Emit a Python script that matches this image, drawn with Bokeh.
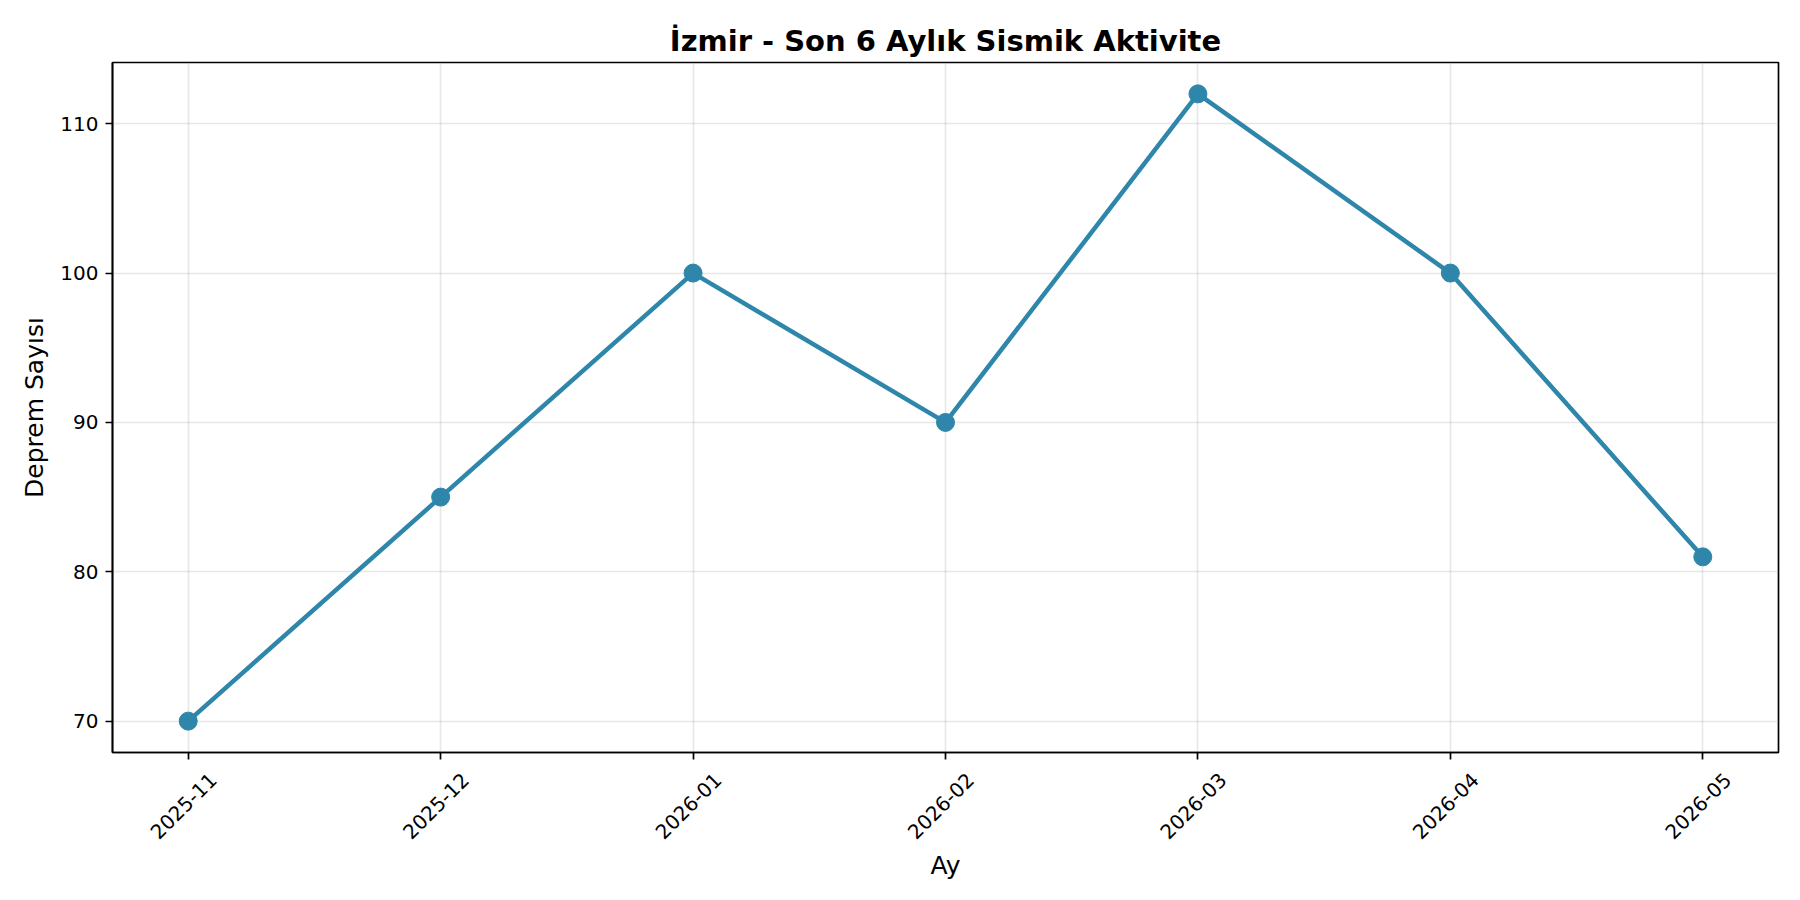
from math import pi

from bokeh.embed import file_html
from bokeh.models import FixedTicker, LinearAxis, Range1d
from bokeh.plotting import figure
from bokeh.resources import INLINE

# monthly earthquake counts, Izmir
months = ['2025-11', '2025-12', '2026-01', '2026-02', '2026-03', '2026-04', '2026-05']
counts = [70, 85, 100, 90, 112, 100, 81]
y_ticks = [70, 80, 90, 100, 110]

title = 'İzmir - Son 6 Aylık Sismik Aktivite'
x_label = 'Ay'
y_label = 'Deprem Sayısı'

LINE_COLOR = '#2E86AB'
FONT = 'DejaVu Sans'


def create_activity_plot():
    x = list(range(len(months)))
    pad_x = 0.05 * (len(months) - 1)
    pad_y = 0.05 * (max(counts) - min(counts))
    x_start, x_end = -pad_x, len(months) - 1 + pad_x

    p = figure(width=1784, height=884, output_backend='svg', toolbar_location=None,
               x_range=Range1d(x_start, x_end),
               y_range=Range1d(min(counts) - pad_y, max(counts) + pad_y),
               min_border_left=112, min_border_right=6, min_border_top=62, min_border_bottom=132)

    p.line(x, counts, line_width=4.5, color=LINE_COLOR)
    p.scatter(x, counts, size=18, color=LINE_COLOR)

    # main x axis: tick marks only
    p.xaxis.ticker = FixedTicker(ticks=x)
    p.xaxis.major_label_overrides = {i: '' for i in x}
    p.xgrid.ticker = FixedTicker(ticks=x)
    p.yaxis.ticker = FixedTicker(ticks=y_ticks)

    # label axis on a slightly shifted range so the rotated labels sit centred under the ticks
    shift = 25 / (1666 / (x_end - x_start))
    p.extra_x_ranges = {'labels': Range1d(x_start - shift, x_end - shift)}
    lab = LinearAxis(x_range_name='labels', ticker=FixedTicker(ticks=x),
                     major_label_overrides={i: m for i, m in enumerate(months)},
                     major_label_orientation=pi / 4, axis_label=x_label)
    p.add_layout(lab, 'below')

    p.title.text = title
    p.title.align = 'center'
    p.title.text_font = FONT
    p.title.text_font_size = '29px'
    p.title.text_font_style = 'bold'
    p.title.text_color = 'black'
    p.title.standoff = 10

    p.yaxis.axis_label = y_label
    format_plot(p, lab)
    return p


def format_plot(p, lab):
    p.background_fill_color = 'white'
    p.border_fill_color = 'white'
    p.outline_line_color = 'black'
    p.outline_line_width = 1.7
    p.grid.grid_line_color = '#b0b0b0'
    p.grid.grid_line_alpha = 0.3
    p.grid.grid_line_width = 1.6
    for ax in (p.xaxis[0], p.yaxis[0], lab):
        ax.axis_line_color = 'black'
        ax.axis_line_width = 1.7
        ax.major_tick_line_color = 'black'
        ax.major_tick_line_width = 1.7
        ax.major_tick_out = 7
        ax.major_tick_in = 0
        ax.minor_tick_line_color = None
        ax.major_label_text_font = FONT
        ax.major_label_text_font_size = '20px'
        ax.major_label_text_color = 'black'
        ax.major_label_standoff = 7
        ax.axis_label_text_font = FONT
        ax.axis_label_text_font_size = '25px'
        ax.axis_label_text_font_style = 'normal'
        ax.axis_label_text_color = 'black'
    p.xaxis[0].major_label_standoff = 0
    lab.axis_line_color = None
    lab.major_tick_line_color = None
    lab.major_tick_out = 0
    lab.major_label_standoff = 17
    lab.axis_label_standoff = 3
    p.yaxis.axis_label_standoff = 8


p = create_activity_plot()
open('out.html', 'w').write(file_html(p, INLINE))
